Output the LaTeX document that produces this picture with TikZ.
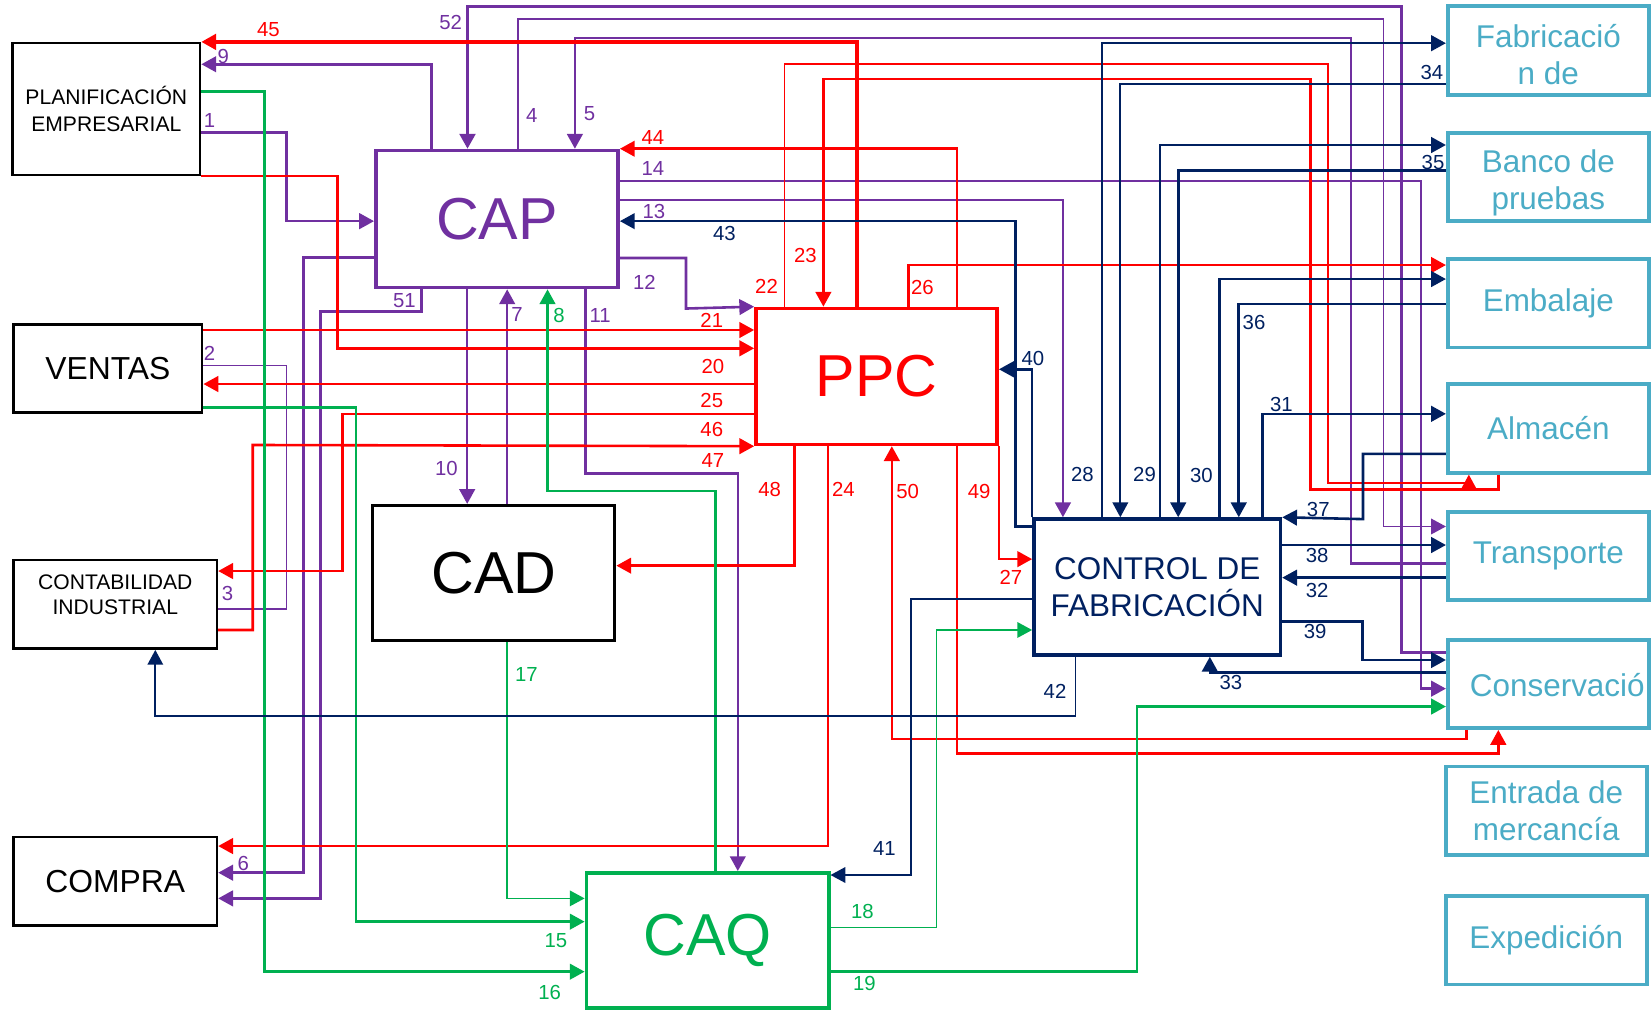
\documentclass[tikz,border=0pt]{standalone}
\usepackage{fontspec}
\setmainfont{Liberation Sans}
\usepackage{tikz}
\usetikzlibrary{arrows.meta}
\definecolor{mypurple}{RGB}{112,48,160}
\definecolor{myred}{RGB}{255,0,0}
\definecolor{mygreen}{RGB}{0,176,80}
\definecolor{mynavy}{RGB}{0,32,96}
\definecolor{myteal}{RGB}{75,172,198}
\tikzset{
  blkbox/.style={rectangle, draw=black, line width=0.7pt, inner sep=0pt,
    align=center, minimum height=0.84cm},
  bigbox/.style={rectangle, line width=1pt, inner sep=0pt, align=center,
    minimum width=2.3cm, minimum height=1.3cm, font=\fontsize{16}{18}\selectfont},
  sidebox/.style={rectangle, draw=myteal, text=myteal, line width=1pt,
    inner sep=0pt, align=center, minimum width=1.91cm, minimum height=0.84cm,
    font=\fontsize{8.5}{10}\selectfont},
  sidetxt/.style={inner sep=0pt, align=center, text=myteal,
    font=\fontsize{8.5}{10}\selectfont},
  lbl/.style={inner sep=0pt, font=\fontsize{5.5}{6}\selectfont},
  arr/.style={-{Triangle[length=4pt,width=4.2pt]}},
  prpline/.style={draw=mypurple, line width=0.7pt},
  redline/.style={draw=myred, line width=0.7pt},
  grnline/.style={draw=mygreen, line width=0.7pt},
  nvyline/.style={draw=mynavy, line width=0.7pt},
  thinline/.style={line width=0.45pt}
}
\begin{document}
\begin{tikzpicture}[x=0.1mm, y=-0.1mm]
  \useasboundingbox (0,0) rectangle (1568,959);

  % ── Company departments (left column) ─────────────────────────────────────
  \node[blkbox, minimum width=1.78cm, minimum height=1.25cm,
        font=\fontsize{5.7}{7.1}\selectfont] (plan) at (101,103.5)
       {PLANIFICACIÓN\\EMPRESARIAL};
  \node[blkbox, minimum width=1.79cm, font=\fontsize{8.6}{10}\selectfont]
       (ventas) at (102.5,350) {VENTAS};
  \node[blkbox, minimum width=1.93cm] (conta) at (109.5,574) {};
  \node[inner sep=0pt, align=center, font=\fontsize{5.7}{6.8}\selectfont]
       (contatxt) at (109.5,565) {CONTABILIDAD\\INDUSTRIAL};
  \node[blkbox, minimum width=1.93cm, font=\fontsize{8.6}{10}\selectfont]
       (compra) at (109.5,837) {COMPRA};

  % ── C-techniques blocks ───────────────────────────────────────────────────
  \node[bigbox, draw=mypurple, text=mypurple] (cap) at (472,208) {CAP};
  \node[bigbox, draw=black, line width=0.8pt, minimum height=1.28cm] (cad) at (469,544) {CAD};
  \node[bigbox, draw=mygreen, text=mygreen, minimum height=1.28cm] (caq) at (672,893) {CAQ};
  \node[bigbox, draw=myred, text=myred, minimum width=2.29cm,
        minimum height=1.29cm] (ppc) at (832.5,357.5) {PPC};
  \node[bigbox, draw=mynavy, text=mynavy, minimum width=2.34cm,
        minimum height=1.29cm, font=\fontsize{8.5}{10}\selectfont]
       (ctrl) at (1099,557.5) {CONTROL DE\\FABRICACIÓN};

  % ── Shop-floor areas (right column) ───────────────────────────────────────
  \node[sidebox] (fab)     at (1470.5,48)  {};
  \node[sidetxt] (fabtxt)  at (1470.5,52)  {Fabricació\\n de};
  \node[sidebox] (banco)   at (1470.5,168) {};
  \node[sidetxt] (bancotxt) at (1470.5,174) {Banco de\\pruebas};
  \node[sidebox] (emb)     at (1470.5,288) {Embalaje};
  \node[sidebox] (alm)     at (1470.5,407) {Almacén};
  \node[sidebox] (trans)   at (1470.5,528) {Transporte};
  \node[sidebox] (cons)    at (1470.5,649.5) {};
  \node[sidetxt] (constxt) at (1479,651) {Conservació};
  \node[sidebox] (entrada) at (1468.5,770) {Entrada de\\mercancía};
  \node[sidebox] (exped)   at (1468.5,893) {Expedición};

  % ── Purple flows (CAP) ────────────────────────────────────────────────────
  \draw[prpline, arr] (410,0 |- cap.north) |- (plan.east |- 0,61);
  \draw[prpline, line width=0.9pt, arr] (cons.west |- 0,619.5) -| (1331,6) -| (444,0 |- cap.north);
  \draw[prpline, thinline, arr] (492,0 |- cap.north) |- (1314,18) |- (trans.west |- 0,500);
  \draw[prpline, arr] (trans.west |- 0,535) -| (1283,36) -| (546,0 |- cap.north);
  \draw[prpline, arr] (cap.east |- 0,172) -| (1349.5,654) -- (cons.west |- 0,654);
  \draw[prpline, arr] (cap.east |- 0,190) -| (1009.5,0 |- ctrl.north);
  \draw[prpline, arr] (cap.east |- 0,245) -| (651.5,293) -- (ppc.north west);
  \draw[prpline, arr] (plan.east |- 0,125.7) -| (272,210) -- (cap.west |- 0,210);
  \draw[prpline, thinline] (conta.east |- 0,578.4) -| (272,347) -- (ventas.east |- 0,347);
  \draw[prpline, arr] (cap.west |- 0,244.7) -| (288.3,828.8) -- (compra.east |- 0,828.8);
  \draw[prpline, arr] (400.3,0 |- cap.south) |- (304.6,296) |- (compra.east |- 0,853.2);
  \draw[prpline, arr] (443.7,0 |- cap.south) -- (443.7,0 |- cad.north);
  \draw[prpline, arr] (481.7,0 |- cad.north) -- (481.7,0 |- cap.south);
  \draw[prpline, arr] (556,0 |- cap.south) |- (700.7,449.5) -- (700.7,0 |- caq.north);

  % ── Red flows (PPC) ───────────────────────────────────────────────────────
  \draw[redline, line width=0.9pt, arr] (814,0 |- ppc.north) |- (plan.north east);
  \draw[redline, arr] (909,0 |- ppc.north) |- (cap.north east);
  \draw[redline, thinline, arr] (745,0 |- ppc.north) |- (1261,61) |- (1395,458.4) -- (1395,0 |- alm.south);
  \draw[redline, arr] (1423,0 |- alm.south) |- (1244.5,464.7) |- (782,75) -- (782,0 |- ppc.north);
  \draw[redline, arr] (863,0 |- ppc.north) |- (emb.west |- 0,251.7);
  \draw[redline, arr] (ventas.east |- 0,313.4) -- (ppc.west |- 0,313.4);
  \draw[redline, arr] (plan.south east) -| (320.5,330.8) -- (ppc.west |- 0,330.8);
  \draw[redline, arr] (ppc.west |- 0,364.7) -- (ventas.east |- 0,364.7);
  \draw[redline, arr] (ppc.west |- 0,393.2) -| (325,542.3) -- (conta.east |- 0,542.3);
  \draw[redline, arr] (conta.east |- 0,598.3) -| (240,422.6) -- (ppc.south west);
  \draw[redline, arr] (754.3,0 |- ppc.south) |- (cad.east |- 0,537.2);
  \draw[redline, arr] (786.5,0 |- ppc.south) |- (compra.east |- 0,803.5);
  \draw[redline, arr] (1393,0 |- cons.south) |- (847,701.8) -- (847,0 |- ppc.south);
  \draw[redline, arr] (909,0 |- ppc.south) |- (1423,715.4) -- (1423,0 |- cons.south);
  \draw[redline, arr] (ppc.south east) |- (ctrl.west |- 0,531);

  % ── Green flows (CAQ) ─────────────────────────────────────────────────────
  \draw[grnline, arr] (plan.east |- 0,87) -| (251.3,922.8) -- (caq.west |- 0,922.8);
  \draw[grnline, arr] (ventas.east |- 0,386.8) -| (338.2,875.3) -- (caq.west |- 0,875.3);
  \draw[grnline, thinline, arr] (481.7,0 |- cad.south) |- (caq.west |- 0,853.2);
  \draw[grnline, arr] (679.7,0 |- caq.north) |- (520,466.3) -- (520,0 |- cap.south);
  \draw[grnline, thinline, arr] (caq.east |- 0,880.7) -| (889.5,598.3) -- (ctrl.west |- 0,598.3);
  \draw[grnline, arr] (caq.east |- 0,922.8) -| (1080,671) -- (cons.west |- 0,671);

  % ── Navy flows (Control de fabricación) ───────────────────────────────────
  \draw[nvyline, arr] (ctrl.west |- 0,500) -- (964.5,500) |- (cap.east |- 0,210);
  \draw[nvyline, arr] (ctrl.north west) |- (ppc.east |- 0,350.7);
  \draw[nvyline, arr] (1046.5,0 |- ctrl.north) |- (fab.west |- 0,41);
  \draw[nvyline, thinline, arr] (fab.west |- 0,80) -| (1064,0 |- ctrl.north);
  \draw[nvyline, arr] (1101.5,0 |- ctrl.north) |- (banco.west |- 0,137.7);
  \draw[nvyline, arr] (banco.west |- 0,162) -| (1119,0 |- ctrl.north);
  \draw[nvyline, arr] (1158,0 |- ctrl.north) |- (emb.west |- 0,265);
  \draw[nvyline, arr] (emb.west |- 0,288.7) -| (1176.5,0 |- ctrl.north);
  \draw[nvyline, arr] (1199,0 |- ctrl.north) |- (alm.west |- 0,393);
  \draw[nvyline, arr] (alm.west |- 0,431) -| (1294.5,493) -- (ctrl.north east);
  \draw[nvyline, arr] (ctrl.east |- 0,517.6) -- (trans.west |- 0,517.6);
  \draw[nvyline, arr] (trans.west |- 0,548.6) -- (ctrl.east |- 0,548.6);
  \draw[nvyline, arr] (ctrl.east |- 0,590) -| (1294,626.8) -- (cons.west |- 0,626.8);
  \draw[nvyline, arr] (cons.west |- 0,638.8) -| (1149,0 |- ctrl.south);
  \draw[nvyline, thinline, arr] (1021.5,0 |- ctrl.south) |- (147.5,680) -- (147.5,0 |- conta.south);
  \draw[nvyline, thinline, arr] (ctrl.west |- 0,569) -| (865,831) -- (caq.east |- 0,831);

  % ── Flow numbers ──────────────────────────────────────────────────────────
  \foreach \n/\x/\y in {45/255/28, 44/620/131, 22/728/272, 23/765/243, 26/876/273,
      21/676/304, 20/677/348, 25/676/380, 46/676/408, 47/677/437, 48/731/465,
      24/801/465, 50/862/467, 49/930/467, 27/960/548}
    \node[lbl, text=myred] (l\n) at (\x,\y) {\n};
  \foreach \n/\x/\y in {52/428/21, 9/212/54, 1/199/114, 4/505/110, 5/560/108,
      14/620/160, 13/621/201, 12/612/268, 51/384/285, 7/491/299, 11/570/300,
      2/199/336, 10/424/445, 3/216/564, 6/231/820}
    \node[lbl, text=mypurple] (l\n) at (\x,\y) {\n};
  \foreach \n/\x/\y in {8/531/300, 17/500/641, 18/819/866, 15/528/893,
      16/522/943, 19/821/934}
    \node[lbl, text=mygreen] (l\n) at (\x,\y) {\n};
  \foreach \n/\x/\y in {43/688/222, 40/981/340, 28/1028/451, 29/1087/451,
      30/1141/452, 34/1360/69, 35/1361/154, 36/1191/306, 31/1217/384,
      37/1252/484, 38/1251/528, 32/1251/561, 39/1249/600, 42/1002/657,
      33/1169/648, 41/840/806}
    \node[lbl, text=mynavy] (l\n) at (\x,\y) {\n};

\end{tikzpicture}
\end{document}
